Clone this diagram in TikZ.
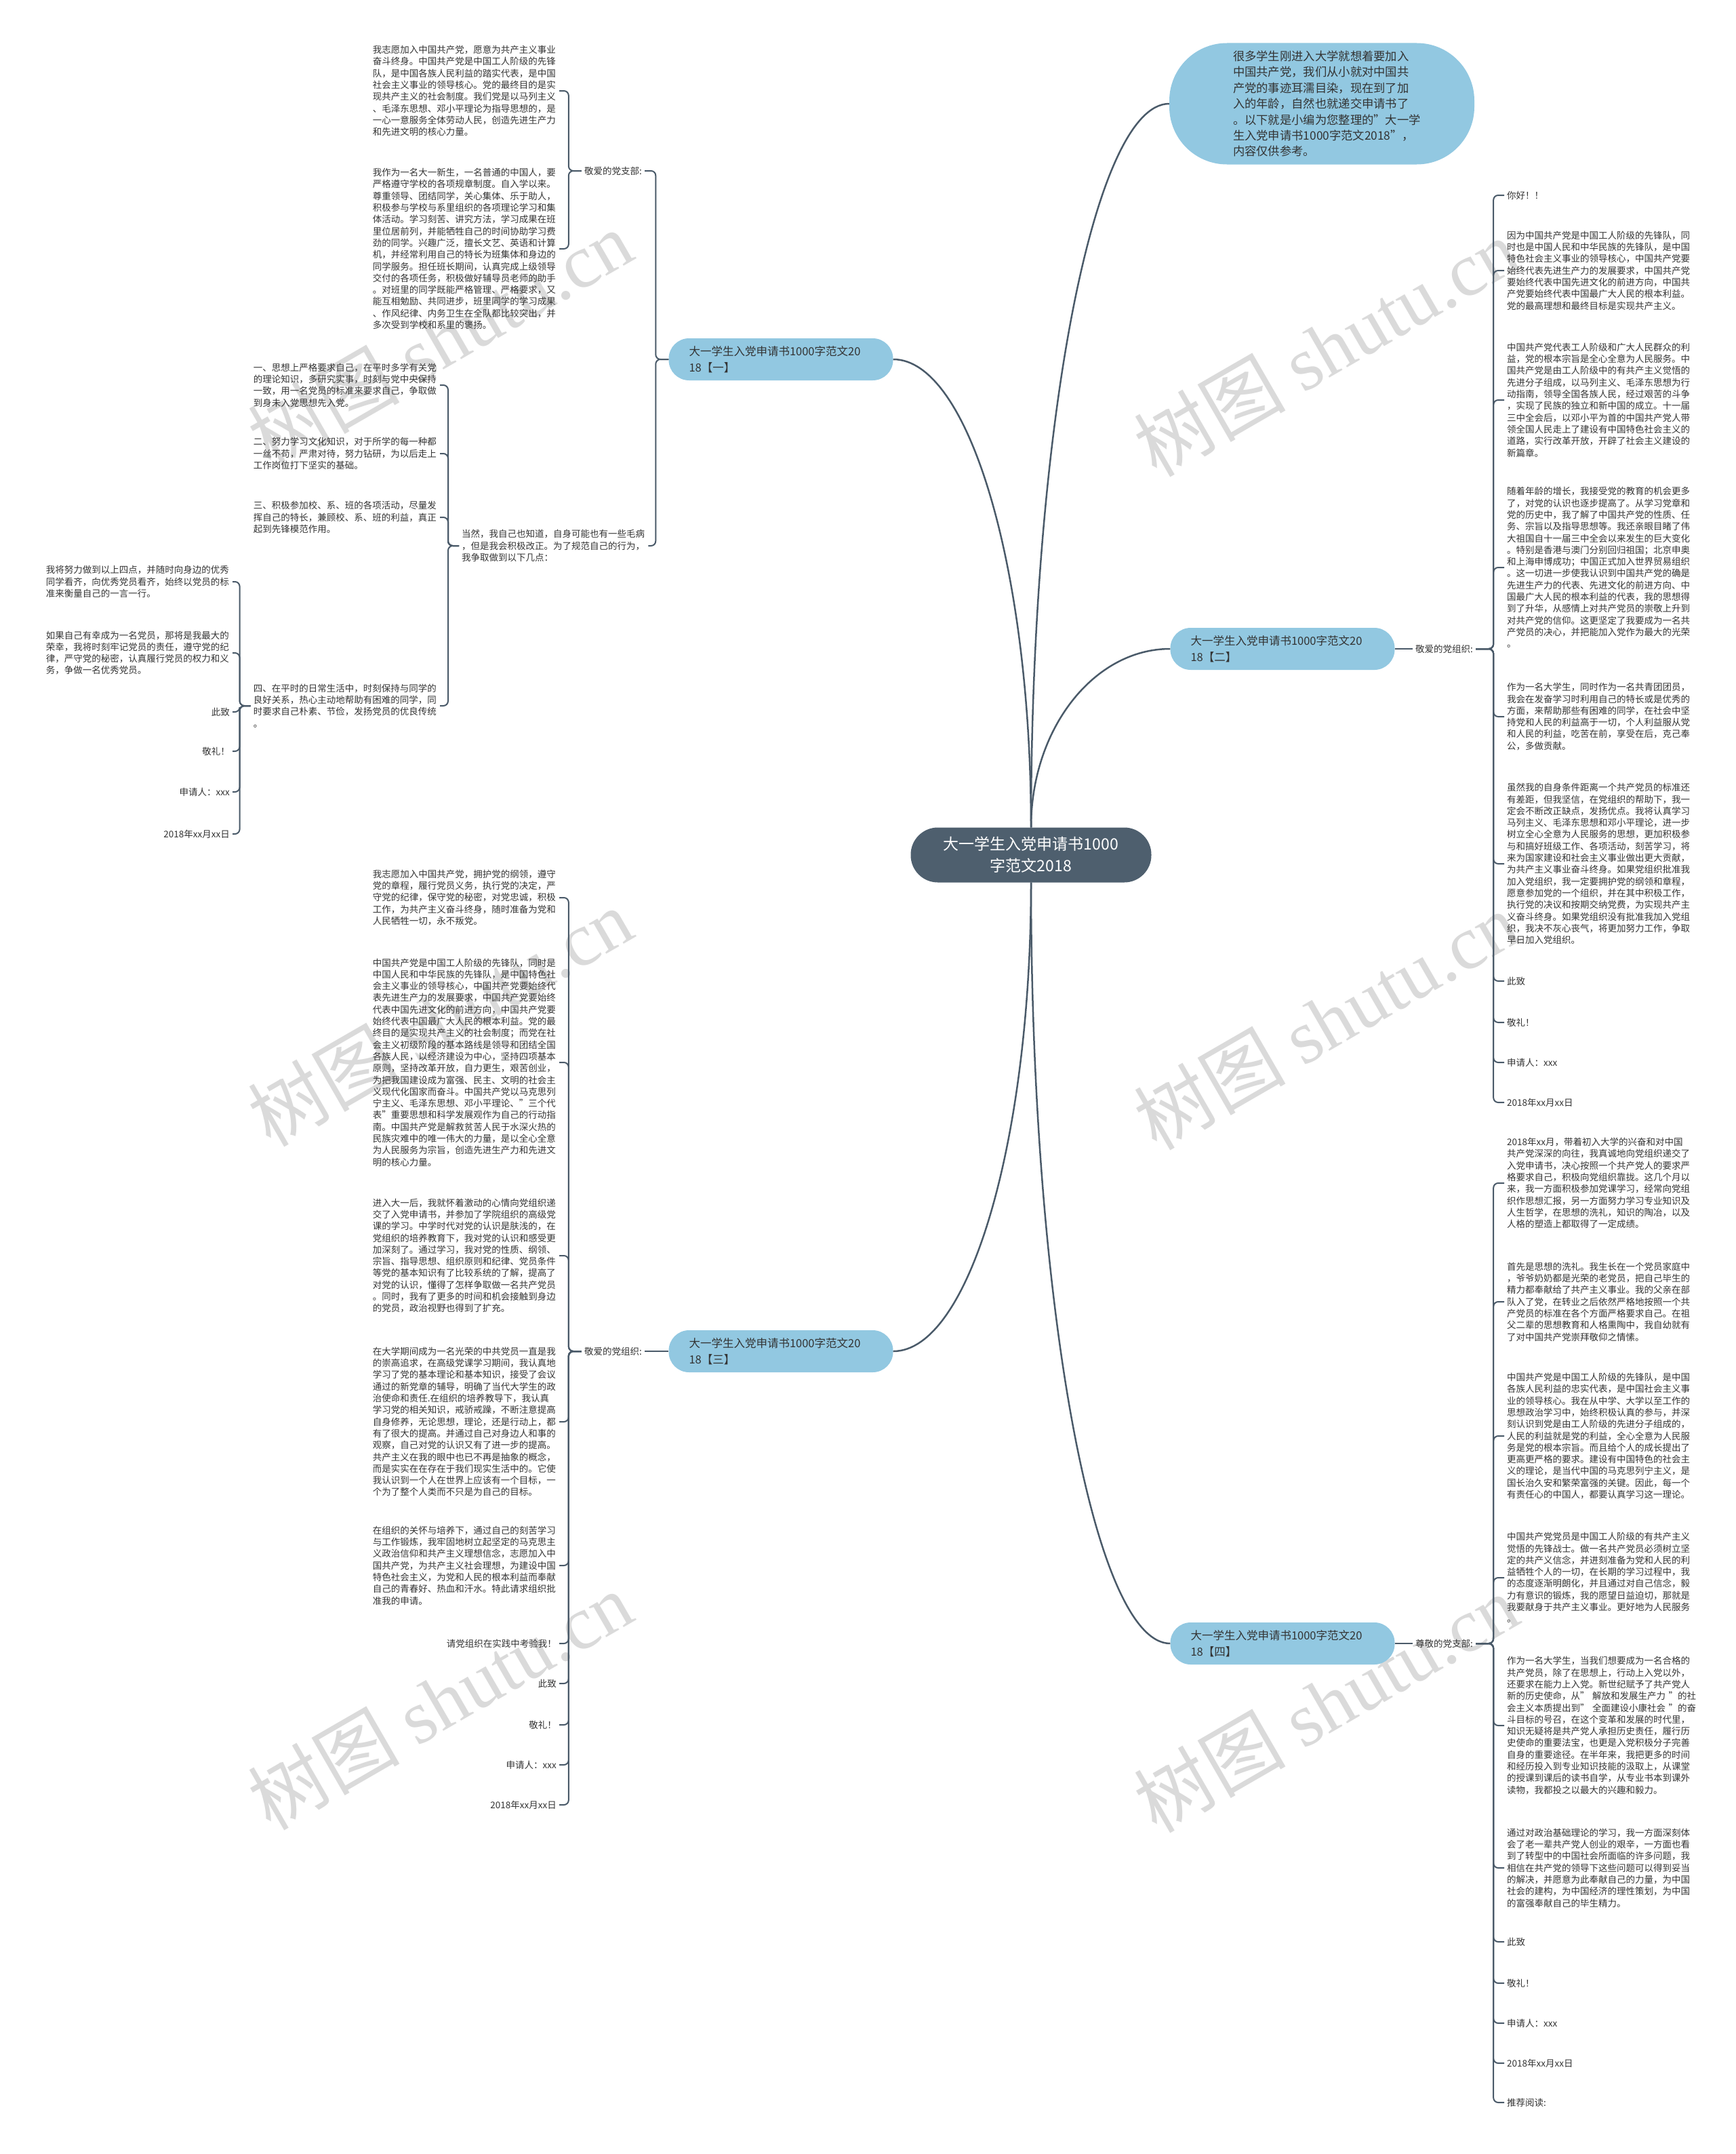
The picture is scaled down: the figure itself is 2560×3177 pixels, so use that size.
\documentclass[tikz,border=0pt]{standalone}
\usepackage{fontspec}
\setmainfont{Noto Sans CJK SC}
\newfontfamily\wmlatin{Liberation Serif}
\usetikzlibrary{positioning, calc}
\definecolor{topicBlue}{HTML}{92C8E1}
\definecolor{rootSlate}{HTML}{4E5F6E}
\definecolor{lineSlate}{HTML}{4A5A69}
\definecolor{leafText}{HTML}{333333}
\definecolor{markGray}{HTML}{DADADA}

\begin{document}
\begin{tikzpicture}[x=1pt, y=-1pt,
    leaf/.style={font=\fontsize{13.5}{17.3}\selectfont, text=leafText,
                 inner xsep=4pt, inner ysep=2pt, align=left},
    para/.style={leaf, text width=271pt},
    topic/.style={rectangle, rounded corners=30pt, fill=topicBlue,
                  minimum height=62pt, text width=271pt, inner xsep=30pt,
                  align=left, font=\fontsize{16.5}{24}\selectfont, text=leafText},
    root/.style={rectangle, rounded corners=40pt, fill=rootSlate,
                 minimum width=355pt, minimum height=81pt, align=center,
                 font=\fontsize{23}{32}\selectfont, text=white},
    bubble/.style={rectangle, rounded corners=85pt, fill=topicBlue,
                   text width=262pt, inner xsep=94pt, minimum height=179pt,
                   align=left, font=\fontsize{17.3}{23.4}\selectfont, text=leafText},
    wmark/.style={rotate=30, text=markGray, font=\fontsize{112}{112}\selectfont},
    link/.style={draw=lineSlate, line width=2.5pt},
    brace/.style={draw=lineSlate, line width=2pt, rounded corners=7pt},
  ]
  \useasboundingbox (0,0) rectangle (2560,3177);

  % watermarks
  \foreach \wx/\wy in {649/500, 649/1500, 649/2508, 1956/512, 1956/1505, 1956/2512}
    \node[wmark] at (\wx,\wy) {树图 {\wmlatin shutu.cn}};

  % root, intro and topics
  \node[root] (ctr) at (1521,1261) {大一学生入党申请书1000\\字范文2018};
  \node[bubble] (intro) at (1950,153)
    {很多学生刚进入大学就想着要加入\\中国共产党，我们从小就对中国共\\产党的事迹耳濡目染，现在到了加\\入的年龄，自然也就递交申请书了\\。以下就是小编为您整理的"大一学\\生入党申请书1000字范文2018"，\\内容仅供参考。};
  \node[topic] (t1) at (1152,530)  {大一学生入党申请书1000字范文20\\18【一】};
  \node[topic] (t2) at (1892,957)  {大一学生入党申请书1000字范文20\\18【二】};
  \node[topic] (t3) at (1152,1993) {大一学生入党申请书1000字范文20\\18【三】};
  \node[topic] (t4) at (1892,2424) {大一学生入党申请书1000字范文20\\18【四】};

  \draw[link] (ctr.north) .. controls +(0,-587) and +(-112,0) .. (intro.west);
  \draw[link] (ctr.north) .. controls +(0,-379) and +(112,0) .. (t1.east);
  \draw[link] (ctr.north) .. controls +(0,-145) and +(-113,0) .. (t2.west);
  \draw[link] (ctr.south) .. controls +(0,380) and +(112,0) .. (t3.east);
  \draw[link] (ctr.south) .. controls +(0,618) and +(-113,0) .. (t4.west);

  % ---- topic 1
  \node[leaf, anchor=east] (g1) at (951,252) {敬爱的党支部:};
  \node[para, anchor=east] (p1a) at (825,134)
    {我志愿加入中国共产党，愿意为共产主义事业\\奋斗终身。中国共产党是中国工人阶级的先锋\\队，是中国各族人民利益的踏实代表，是中国\\社会主义事业的领导核心。党的最终目的是实\\现共产主义的社会制度。我们党是以马列主义\\、毛泽东思想、邓小平理论为指导思想的，是\\一心一意服务全体劳动人民，创造先进生产力\\和先进文明的核心力量。};
  \node[para, anchor=east] (p1b) at (825,367)
    {我作为一名大一新生，一名普通的中国人，要\\严格遵守学校的各项规章制度。自入学以来。\\尊重领导、团结同学，关心集体、乐于助人，\\积极参与学校与系里组织的各项理论学习和集\\体活动。学习刻苦、讲究方法，学习成果在班\\里位居前列，并能牺牲自己的时间协助学习费\\劲的同学。兴趣广泛，擅长文艺、英语和计算\\机，并经常利用自己的特长为班集体和身边的\\同学服务。担任班长期间，认真完成上级领导\\交付的各项任务，积极做好辅导员老师的助手\\。对班里的同学既能严格管理、严格要求，又\\能互相勉励、共同进步，班里同学的学习成果\\、作风纪律、内务卫生在全队都比较突出，并\\多次受到学校和系里的褒扬。};
  \node[para, anchor=west] (p1c) at (677,805)
    {当然，我自己也知道，自身可能也有一些毛病\\，但是我会积极改正。为了规范自己的行为，\\我争取做到以下几点：};
  \node[para, anchor=east] (pt1) at (649,568)
    {一、思想上严格要求自己，在平时多学有关党\\的理论知识，多研究实事，时刻与党中央保持\\一致，用一名党员的标准来要求自己，争取做\\到身未入党思想先入党。};
  \node[para, anchor=east] (pt2) at (649,669)
    {二、努力学习文化知识，对于所学的每一种都\\一丝不苟，严肃对待，努力钻研，为以后走上\\工作岗位打下坚实的基础。};
  \node[para, anchor=east] (pt3) at (649,763)
    {三、积极参加校、系、班的各项活动，尽量发\\挥自己的特长，兼顾校、系、班的利益，真正\\起到先锋模范作用。};
  \node[para, anchor=east] (pt4) at (649,1041)
    {四、在平时的日常生活中，时刻保持与同学的\\良好关系，热心主动地帮助有困难的同学，同\\时要求自己朴素、节俭，发扬党员的优良传统\\。};
  \node[para, anchor=east] (pe1) at (343,858)
    {我将努力做到以上四点，并随时向身边的优秀\\同学看齐，向优秀党员看齐，始终以党员的标\\准来衡量自己的一言一行。};
  \node[para, anchor=east] (pe2) at (343,963)
    {如果自己有幸成为一名党员，那将是我最大的\\荣幸，我将时刻牢记党员的责任，遵守党的纪\\律，严守党的秘密，认真履行党员的权力和义\\务，争做一名优秀党员。};
  \foreach \n/\y/\t in {pe3/1050/此致, pe4/1108/敬礼！, pe5/1168/申请人：xxx, pe6/1230/2018年xx月xx日}
    \node[leaf, anchor=east] (\n) at (343,\y) {\t};

  \foreach \c in {g1, p1c} \draw[brace] (t1.west) -- ++(-19,0) |- (\c.east);
  \foreach \c in {p1a, p1b} \draw[brace] (g1.west) -- ++(-19,0) |- (\c.east);
  \foreach \c in {pt1, pt2, pt3, pt4} \draw[brace] (p1c.west) -- ++(-16,0) |- (\c.east);
  \foreach \c in {pe1, pe2, pe3, pe4, pe5, pe6} \draw[brace] (pt4.west) -- ++(-16,0) |- (\c.east);

  % ---- topic 2
  \node[leaf, anchor=west] (g2) at (2084,957) {敬爱的党组织:};
  \node[leaf, anchor=west] (q1) at (2219,288) {你好！！};
  \node[para, anchor=west] (q2) at (2219,399)
    {因为中国共产党是中国工人阶级的先锋队，同\\时也是中国人民和中华民族的先锋队，是中国\\特色社会主义事业的领导核心，中国共产党要\\始终代表先进生产力的发展要求，中国共产党\\要始终代表中国先进文化的前进方向，中国共\\产党要始终代表中国最广大人民的根本利益。\\党的最高理想和最终目标是实现共产主义。};
  \node[para, anchor=west] (q3) at (2219,590)
    {中国共产党代表工人阶级和广大人民群众的利\\益，党的根本宗旨是全心全意为人民服务。中\\国共产党是由工人阶级中的有共产主义觉悟的\\先进分子组成，以马列主义、毛泽东思想为行\\动指南，领导全国各族人民，经过艰苦的斗争\\，实现了民族的独立和新中国的成立。十一届\\三中全会后，以邓小平为首的中国共产党人带\\领全国人民走上了建设有中国特色社会主义的\\道路，实行改革开放，开辟了社会主义建设的\\新篇章。};
  \node[para, anchor=west] (q4) at (2219,837)
    {随着年龄的增长，我接受党的教育的机会更多\\了，对党的认识也逐步提高了。从学习党章和\\党的历史中，我了解了中国共产党的性质、任\\务、宗旨以及指导思想等。我还亲眼目睹了伟\\大祖国自十一届三中全会以来发生的巨大变化\\。特别是香港与澳门分别回归祖国；北京申奥\\和上海申博成功；中国正式加入世界贸易组织\\。这一切进一步使我认识到中国共产党的确是\\先进生产力的代表、先进文化的前进方向、中\\国最广大人民的根本利益的代表，我的思想得\\到了升华，从感情上对共产党员的崇敬上升到\\对共产党的信仰。这更坚定了我要成为一名共\\产党员的决心，并把能加入党作为最大的光荣\\。};
  \node[para, anchor=west] (q5) at (2219,1057)
    {作为一名大学生，同时作为一名共青团团员，\\我会在发奋学习时利用自己的特长或是优秀的\\方面，来帮助那些有困难的同学，在社会中坚\\持党和人民的利益高于一切，个人利益服从党\\和人民的利益，吃苦在前，享受在后，克己奉\\公，多做贡献。};
  \node[para, anchor=west] (q6) at (2219,1274)
    {虽然我的自身条件距离一个共产党员的标准还\\有差距，但我坚信，在党组织的帮助下，我一\\定会不断改正缺点，发扬优点。我将认真学习\\马列主义、毛泽东思想和邓小平理论，进一步\\树立全心全意为人民服务的思想，更加积极参\\与和搞好班级工作、各项活动，刻苦学习，将\\来为国家建设和社会主义事业做出更大贡献，\\为共产主义事业奋斗终身。如果党组织批准我\\加入党组织，我一定要拥护党的纲领和章程，\\愿意参加党的一个组织，并在其中积极工作，\\执行党的决议和按期交纳党费，为实现共产主\\义奋斗终身。如果党组织没有批准我加入党组\\织，我决不灰心丧气，将更加努力工作，争取\\早日加入党组织。};
  \foreach \n/\y/\t in {q7/1447/此致, q8/1508/敬礼！, q9/1567/申请人：xxx, q10/1626/2018年xx月xx日}
    \node[leaf, anchor=west] (\n) at (2219,\y) {\t};

  \draw[brace] (t2.east) -- (g2.west);
  \foreach \c in {q1, q2, q3, q4, q5, q6, q7, q8, q9, q10}
    \draw[brace] (g2.east) -- ++(26,0) |- (\c.west);

  % ---- topic 3
  \node[leaf, anchor=east] (g3) at (951,1993) {敬爱的党组织:};
  \node[para, anchor=east] (r1) at (825,1324)
    {我志愿加入中国共产党，拥护党的纲领，遵守\\党的章程，履行党员义务，执行党的决定，严\\守党的纪律，保守党的秘密，对党忠诚，积极\\工作，为共产主义奋斗终身，随时准备为党和\\人民牺牲一切，永不叛党。};
  \node[para, anchor=east] (r2) at (825,1567)
    {中国共产党是中国工人阶级的先锋队，同时是\\中国人民和中华民族的先锋队，是中国特色社\\会主义事业的领导核心，中国共产党要始终代\\表先进生产力的发展要求，中国共产党要始终\\代表中国先进文化的前进方向，中国共产党要\\始终代表中国最广大人民的根本利益。党的最\\终目的是实现共产主义的社会制度；而党在社\\会主义初级阶段的基本路线是领导和团结全国\\各族人民，以经济建设为中心，坚持四项基本\\原则，坚持改革开放，自力更生，艰苦创业，\\为把我国建设成为富强、民主、文明的社会主\\义现代化国家而奋斗。中国共产党以马克思列\\宁主义、毛泽东思想、邓小平理论、"三个代\\表"重要思想和科学发展观作为自己的行动指\\南。中国共产党是解救贫苦人民于水深火热的\\民族灾难中的唯一伟大的力量，是以全心全意\\为人民服务为宗旨，创造先进生产力和先进文\\明的核心力量。};
  \node[para, anchor=east] (r3) at (825,1852)
    {进入大一后，我就怀着激动的心情向党组织递\\交了入党申请书，并参加了学院组织的高级党\\课的学习。中学时代对党的认识是肤浅的，在\\党组织的培养教育下，我对党的认识和感受更\\加深刻了。通过学习，我对党的性质、纲领、\\宗旨、指导思想、组织原则和纪律、党员条件\\等党的基本知识有了比较系统的了解，提高了\\对党的认识，懂得了怎样争取做一名共产党员\\。同时，我有了更多的时间和机会接触到身边\\的党员，政治视野也得到了扩充。};
  \node[para, anchor=east] (r4) at (825,2097)
    {在大学期间成为一名光荣的中共党员一直是我\\的崇高追求，在高级党课学习期间，我认真地\\学习了党的基本理论和基本知识，接受了会议\\通过的新党章的辅导，明确了当代大学生的政\\治使命和责任.在组织的培养教导下，我认真\\学习党的相关知识，戒骄戒躁，不断注意提高\\自身修养，无论思想，理论，还是行动上，都\\有了很大的提高。并通过自己对身边人和事的\\观察，自己对党的认识又有了进一步的提高。\\共产主义在我的眼中也已不再是抽象的概念，\\而是实实在在存在于我们现实生活中的。它使\\我认识到一个人在世界上应该有一个目标，一\\个为了整个人类而不只是为自己的目标。};
  \node[para, anchor=east] (r5) at (825,2309)
    {在组织的关怀与培养下，通过自己的刻苦学习\\与工作锻炼，我牢固地树立起坚定的马克思主\\义政治信仰和共产主义理想信念，志愿加入中\\国共产党，为共产主义社会理想，为建设中国\\特色社会主义，为党和人民的根本利益而奉献\\自己的青春好、热血和汗水。特此请求组织批\\准我的申请。};
  \foreach \n/\y/\t in {r6/2424/请党组织在实践中考验我！, r7/2483/此致, r8/2544/敬礼！, r9/2603/申请人：xxx, r10/2662/2018年xx月xx日}
    \node[leaf, anchor=east] (\n) at (825,\y) {\t};

  \draw[brace] (t3.west) -- (g3.east);
  \foreach \c in {r1, r2, r3, r4, r5, r6, r7, r8, r9, r10}
    \draw[brace] (g3.west) -- ++(-19,0) |- (\c.east);

  % ---- topic 4
  \node[leaf, anchor=west] (g4) at (2084,2424) {尊敬的党支部:};
  \node[para, anchor=west] (s1) at (2219,1745)
    {2018年xx月，带着初入大学的兴奋和对中国\\共产党深深的向往，我真诚地向党组织递交了\\入党申请书，决心按照一个共产党人的要求严\\格要求自己，积极向党组织靠拢。这几个月以\\来，我一方面积极参加党课学习，经常向党组\\织作思想汇报，另一方面努力学习专业知识及\\人生哲学，在思想的洗礼，知识的陶冶，以及\\人格的塑造上都取得了一定成绩。};
  \node[para, anchor=west] (s2) at (2219,1920)
    {首先是思想的洗礼。我生长在一个党员家庭中\\，爷爷奶奶都是光荣的老党员，把自己毕生的\\精力都奉献给了共产主义事业。我的父亲在部\\队入了党，在转业之后依然严格地按照一个共\\产党员的标准在各个方面严格要求自己。在祖\\父二辈的思想教育和人格熏陶中，我自幼就有\\了对中国共产党崇拜敬仰之情愫。};
  \node[para, anchor=west] (s3) at (2219,2118)
    {中国共产党是中国工人阶级的先锋队，是中国\\各族人民利益的忠实代表，是中国社会主义事\\业的领导核心。我在从中学、大学以至工作的\\思想政治学习中，始终积极认真的参与，并深\\刻认识到党是由工人阶级的先进分子组成的，\\人民的利益就是党的利益，全心全意为人民服\\务是党的根本宗旨。而且给个人的成长提出了\\更高更严格的要求。建设有中国特色的社会主\\义的理论，是当代中国的马克思列宁主义，是\\国长治久安和繁荣富强的关键。因此，每一个\\有责任心的中国人，都要认真学习这一理论。};
  \node[para, anchor=west] (s4) at (2219,2327)
    {中国共产党党员是中国工人阶级的有共产主义\\觉悟的先锋战士。做一名共产党员必须树立坚\\定的共产义信念，并进刻准备为党和人民的利\\益牺牲个人的一切，在长期的学习过程中，我\\的态度逐渐明朗化，并且通过对自己信念，毅\\力有意识的锻炼，我的愿望日益迫切，那就是\\我要献身于共产主义事业。更好地为人民服务\\。};
  \node[para, anchor=west] (s5) at (2219,2545)
    {作为一名大学生，当我们想要成为一名合格的\\共产党员，除了在思想上，行动上入党以外，\\还要求在能力上入党。新世纪赋予了共产党人\\新的历史使命，从"~解放和发展生产力~"的社\\会主义本质提出到"~全面建设小康社会~"的奋\\斗目标的号召，在这个变革和发展的时代里，\\知识无疑将是共产党人承担历史责任，履行历\\史使命的重要法宝，也更是入党积极分子完善\\自身的重要途径。在半年来，我把更多的时间\\和经历投入到专业知识技能的汲取上，从课堂\\的授课到课后的读书自学，从专业书本到课外\\读物，我都投之以最大的兴趣和毅力。};
  \node[para, anchor=west] (s6) at (2219,2755)
    {通过对政治基础理论的学习，我一方面深刻体\\会了老一辈共产党人创业的艰辛，一方面也看\\到了转型中的中国社会所面临的许多问题，我\\相信在共产党的领导下这些问题可以得到妥当\\的解决，并愿意为此奉献自己的力量，为中国\\社会的建构，为中国经济的理性策划，为中国\\的富强奉献自己的毕生精力。};
  \foreach \n/\y/\t in {s7/2864/此致, s8/2925/敬礼！, s9/2984/申请人：xxx, s10/3043/2018年xx月xx日, s11/3101/推荐阅读:}
    \node[leaf, anchor=west] (\n) at (2219,\y) {\t};

  \draw[brace] (t4.east) -- (g4.west);
  \foreach \c in {s1, s2, s3, s4, s5, s6, s7, s8, s9, s10, s11}
    \draw[brace] (g4.east) -- ++(26,0) |- (\c.west);
\end{tikzpicture}
\end{document}
